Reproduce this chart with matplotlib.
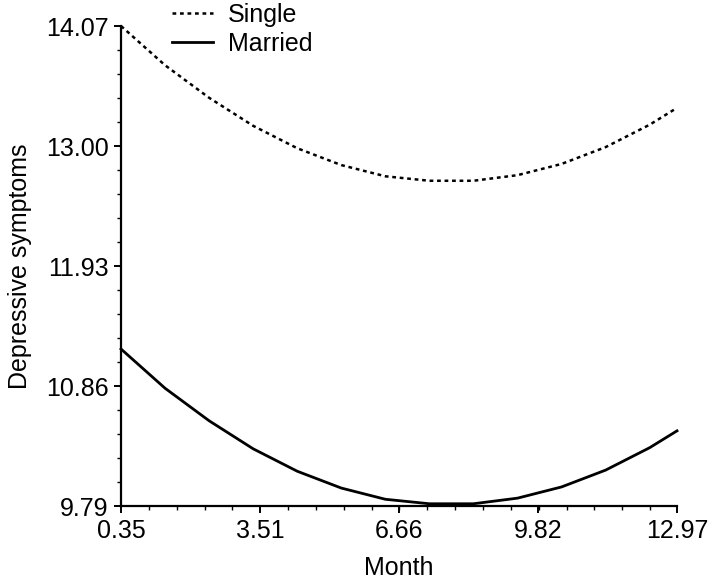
import matplotlib.pyplot as plt
from matplotlib.ticker import AutoMinorLocator

plt.rcParams["font.family"] = ["Liberation Sans", "DejaVu Sans"]

# meses donde se evalua la curva ajustada
month = [0.35, 1.35, 2.35, 3.35, 4.35, 5.35, 6.35, 7.35, 8.35, 9.35, 10.35, 11.35, 12.35, 12.97]
single = [14.07, 13.72, 13.43, 13.18, 12.98, 12.83, 12.73, 12.69, 12.69, 12.74, 12.84, 12.99, 13.19, 13.34]
married = [11.19, 10.84, 10.55, 10.30, 10.10, 9.95, 9.85, 9.81, 9.81, 9.86, 9.96, 10.11, 10.31, 10.46]

x_ticks = [0.35, 3.51, 6.66, 9.82, 12.97]
y_ticks = [9.79, 10.86, 11.93, 13.00, 14.07]

W, H = 713, 583
fig = plt.figure(figsize=(W / 100, H / 100), dpi=100)
ax = fig.add_axes([121 / W, 1 - 506 / H, (677 - 121) / W, (506 - 26) / H])

ax.plot(month, single, color="black", lw=1.8, ls=(0, (1.5, 1.5)), label="Single", clip_on=False)
ax.plot(month, married, color="black", lw=2.0, label="Married", clip_on=False)

ax.set_xlim(x_ticks[0], x_ticks[-1])
ax.set_ylim(y_ticks[0], y_ticks[-1])
ax.set_xticks(x_ticks, [f"{v:.2f}" for v in x_ticks])
ax.set_yticks(y_ticks, [f"{v:.2f}" for v in y_ticks])
ax.xaxis.set_minor_locator(AutoMinorLocator(5))
ax.yaxis.set_minor_locator(AutoMinorLocator(5))

for side in ["top", "right"]:
    ax.spines[side].set_visible(False)
for side in ["left", "bottom"]:
    ax.spines[side].set_linewidth(1.6)

ax.tick_params(which="major", direction="out", length=5, width=1.4, labelsize=18, pad=4)
ax.tick_params(which="minor", direction="out", length=3, width=1.0)

ax.set_xlabel("Month", fontsize=18, labelpad=10)
ax.set_ylabel("Depressive symptoms", fontsize=18, labelpad=10)

ax.legend(
    loc="upper left",
    bbox_to_anchor=(172 / W, 1 - 3 / H),
    bbox_transform=fig.transFigure,
    frameon=False,
    fontsize=18,
    handlelength=1.65,
    handletextpad=0.6,
    labelspacing=0.2,
    borderpad=0,
    borderaxespad=0,
)

fig.savefig("out.png", dpi=100)
